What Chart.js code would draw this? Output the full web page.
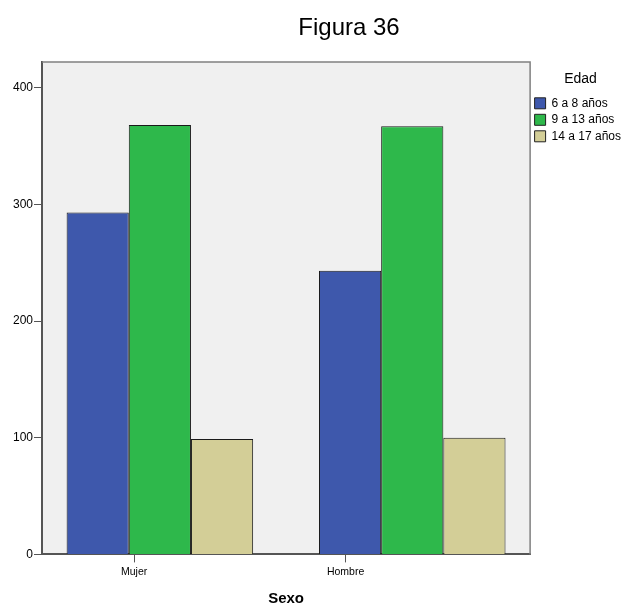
<!DOCTYPE html>
<html>
<head>
<meta charset="utf-8">
<script src="https://cdn.jsdelivr.net/npm/chart.js@4/dist/chart.umd.min.js"></script>
<style>
  html, body { margin: 0; padding: 0; background: #ffffff; }
  #wrap { width: 623px; height: 604px; position: relative; }
</style>
</head>
<body>
<div id="wrap"><canvas id="c" width="623" height="604"></canvas></div>
<script>
const categories = ['Mujer', 'Hombre'];
const seriesNames = ['6 a 8 años', '9 a 13 años', '14 a 17 años'];
const edad6a8 = [293, 243];
const edad9a13 = [368, 367];
const edad14a17 = [99, 100];
const yTickValues = [0, 100, 200, 300, 400];
const seriesColors = ['#3e58ac', '#2eb84b', '#d3ce97'];
const chartTitle = 'Figura 36';
const xTitle = 'Sexo';
const legendTitle = 'Edad';

const FONT = "'Liberation Sans', Arial, sans-serif";

const framePlugin = {
  id: 'frame',
  beforeDraw(chart) {
    const {ctx, chartArea: a} = chart;
    ctx.save();
    ctx.fillStyle = '#f0f0f0';
    ctx.fillRect(a.left, a.top, a.right - a.left, a.bottom - a.top);
    ctx.restore();
  },
  afterDatasetsDraw(chart) {
    const {ctx, chartArea: a} = chart;
    ctx.save();
    ctx.strokeStyle = '#808080';
    ctx.lineWidth = 1.5;
    ctx.beginPath();
    ctx.moveTo(a.left, a.top);
    ctx.lineTo(a.right, a.top);
    ctx.lineTo(a.right, a.bottom);
    ctx.stroke();
    ctx.restore();
  },
  afterDraw(chart) {
    const {ctx} = chart;
    ctx.save();
    ctx.fillStyle = '#000';
    ctx.font = '24px ' + FONT;
    ctx.textAlign = 'center';
    ctx.textBaseline = 'middle';
    ctx.fillText(chartTitle, 349, 28);
    ctx.restore();
  }
};

const values = [edad6a8, edad9a13, edad14a17];

new Chart(document.getElementById('c'), {
  type: 'bar',
  data: {
    datasets: seriesNames.map((name, i) => ({
      label: name,
      data: values[i].map((v, k) => ({ x: k, y: v })),
      backgroundColor: seriesColors[i],
      borderColor: '#1a1a1a',
      borderWidth: 1,
      categoryPercentage: 0.882,
      barPercentage: 1.0
    }))
  },
  options: {
    responsive: false,
    animation: false,
    layout: { padding: { top: 62, left: 12, right: -8, bottom: -4 } },
    plugins: {
      tooltip: { enabled: false },
      title: { display: false },
      legend: {
        position: 'right',
        align: 'start',
        title: {
          display: true,
          text: legendTitle,
          color: '#000',
          font: { family: FONT, size: 14 },
          padding: { top: 10, bottom: 4 }
        },
        labels: {
          boxWidth: 11,
          boxHeight: 11,
          padding: 4.5,
          color: '#000',
          font: { family: FONT, size: 12 },
          generateLabels(chart) {
            return chart.data.datasets.map((ds, i) => ({
              text: ds.label,
              fillStyle: ds.backgroundColor,
              strokeStyle: '#222222',
              lineWidth: 1,
              hidden: false,
              datasetIndex: i
            }));
          }
        }
      }
    },
    scales: {
      x: {
        type: 'linear',
        offset: false,
        min: -0.467,
        max: 1.467,
        afterBuildTicks(scale) {
          // SPSS places the category tick marks left of the bar groups
          scale.ticks = [{ value: -0.102 }, { value: 0.736 }];
        },
        grid: {
          display: true,
          offset: false,
          drawOnChartArea: false,
          drawTicks: true,
          tickLength: 8,
          color: '#555'
        },
        border: { display: true, color: '#555', width: 2 },
        ticks: {
          color: '#000',
          font: { family: FONT, size: 10.5 },
          padding: 3,
          maxRotation: 0,
          callback: (v, i) => categories[i]
        },
        title: {
          display: true,
          text: xTitle,
          color: '#000',
          font: { family: FONT, size: 15, weight: 'bold' },
          padding: { top: 9, bottom: 0 }
        }
      },
      y: {
        min: 0,
        max: 422,
        afterBuildTicks(scale) {
          scale.ticks = yTickValues.map(v => ({ value: v }));
        },
        grid: {
          display: true,
          drawOnChartArea: false,
          drawTicks: true,
          tickLength: 8,
          color: '#555'
        },
        border: { display: true, color: '#555', width: 2 },
        ticks: { color: '#000', font: { family: FONT, size: 12 }, padding: 1 }
      }
    }
  },
  plugins: [framePlugin]
});
</script>
</body>
</html>
